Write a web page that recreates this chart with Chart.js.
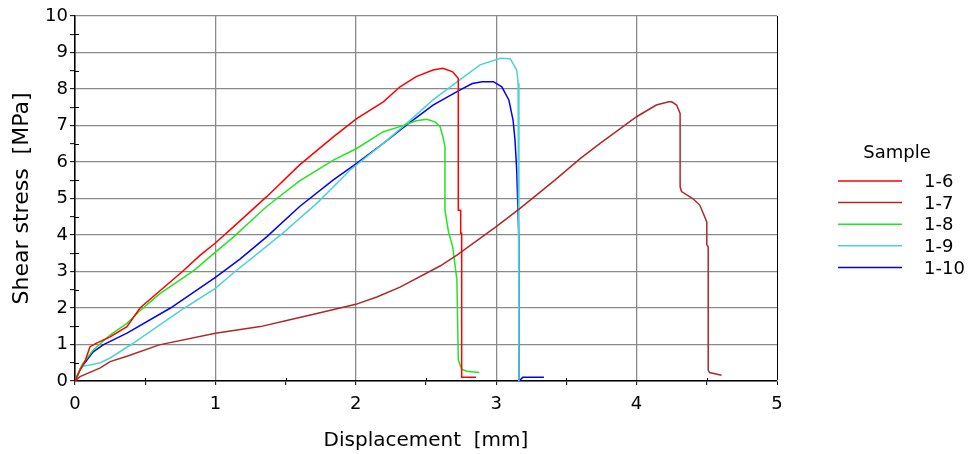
<!DOCTYPE html>
<html>
<head>
<meta charset="utf-8">
<script src="https://cdn.jsdelivr.net/npm/chart.js@4.4.0/dist/chart.umd.min.js"></script>
<style>
  html, body { margin: 0; padding: 0; background: #fff; }
  #wrap { width: 970px; height: 454px; }
</style>
</head>
<body>
<div id="wrap"><canvas id="chart"></canvas></div>
<script>
const sampleNames = ["1-6", "1-7", "1-8", "1-9", "1-10"];
const sampleColors = ["#ff0000", "#b02828", "#22e622", "#4fd2d2", "#0000ff"];

// displacement [mm] / shear stress [MPa]
const x16 = [0, 0.036, 0.07, 0.107, 0.15, 0.25, 0.37, 0.463, 0.765, 0.89, 1.0, 1.13, 1.365, 1.60, 1.84, 2.006, 2.196, 2.315, 2.43, 2.55, 2.62, 2.69, 2.73, 2.73, 2.747, 2.747, 2.754, 2.754, 2.856];
const y16 = [0, 0.3, 0.53, 0.94, 1.03, 1.21, 1.49, 2.0, 3.0, 3.44, 3.78, 4.23, 5.05, 5.92, 6.69, 7.19, 7.65, 8.06, 8.34, 8.52, 8.57, 8.47, 8.29, 4.68, 4.68, 4.05, 4.05, 0.1, 0.1];

const x17 = [0, 0.036, 0.18, 0.25, 0.37, 0.6, 1.0, 1.32, 1.5, 1.745, 2.0, 2.15, 2.315, 2.6, 2.72, 3.0, 3.17, 3.42, 3.6, 3.74, 4.0, 4.14, 4.23, 4.25, 4.285, 4.31, 4.31, 4.32, 4.40, 4.45, 4.475, 4.50, 4.50, 4.51, 4.51, 4.52, 4.605];
const y17 = [0, 0.12, 0.36, 0.53, 0.68, 0.99, 1.31, 1.49, 1.65, 1.87, 2.1, 2.3, 2.57, 3.15, 3.45, 4.23, 4.73, 5.51, 6.1, 6.51, 7.24, 7.56, 7.65, 7.65, 7.56, 7.33, 5.32, 5.19, 5.0, 4.82, 4.59, 4.36, 3.73, 3.68, 0.30, 0.23, 0.16];

const x18 = [0, 0.05, 0.13, 0.25, 0.37, 0.47, 0.6, 0.855, 0.96, 1.13, 1.365, 1.60, 1.84, 2.006, 2.196, 2.315, 2.43, 2.505, 2.564, 2.6, 2.62, 2.635, 2.635, 2.66, 2.69, 2.71, 2.72, 2.73, 2.754, 2.79, 2.88];
const y18 = [0, 0.45, 0.85, 1.26, 1.58, 1.95, 2.38, 3.05, 3.4, 3.95, 4.78, 5.48, 6.05, 6.37, 6.83, 6.97, 7.13, 7.17, 7.10, 6.97, 6.69, 6.42, 4.68, 4.09, 3.68, 3.08, 2.77, 0.58, 0.32, 0.27, 0.23];

const x19 = [0, 0.036, 0.06, 0.107, 0.18, 0.25, 0.40, 0.78, 1.0, 1.14, 1.258, 1.48, 1.72, 1.96, 2.196, 2.36, 2.55, 2.74, 2.885, 3.03, 3.1, 3.146, 3.156, 3.162, 3.162];
const y19 = [0, 0.3, 0.41, 0.44, 0.5, 0.63, 1.0, 2.0, 2.54, 3.0, 3.36, 4.05, 4.86, 5.78, 6.51, 7.05, 7.70, 8.25, 8.66, 8.84, 8.83, 8.52, 8.16, 5.0, 0.0];

const x110 = [0, 0.04, 0.13, 0.2, 0.37, 0.68, 1.0, 1.175, 1.365, 1.60, 1.84, 2.006, 2.196, 2.36, 2.55, 2.74, 2.83, 2.9, 2.98, 3.04, 3.09, 3.12, 3.134, 3.146, 3.162, 3.162, 3.19, 3.34];
const y110 = [0, 0.35, 0.80, 0.99, 1.31, 2.0, 2.84, 3.34, 3.95, 4.78, 5.51, 5.96, 6.51, 7.01, 7.56, 7.97, 8.15, 8.2, 8.2, 8.06, 7.70, 7.15, 6.6, 5.78, 3.86, 0.0, 0.1, 0.1];

const seriesX = [x16, x17, x18, x19, x110];
const seriesY = [y16, y17, y18, y19, y110];

const FONT = "'DejaVu Sans', Verdana, sans-serif";

const datasets = sampleNames.map((name, i) => ({
  label: name,
  data: seriesX[i].map((x, j) => ({ x: x, y: seriesY[i][j] })),
  borderColor: sampleColors[i],
  backgroundColor: sampleColors[i],
  borderWidth: 1.5,
  pointRadius: 0,
  showLine: true,
  tension: 0
}));

const isInt = v => Math.abs(v - Math.round(v)) < 1e-6;

// minor ticks cross the axis line, draw the inner half + the legend
const extras = {
  id: "extras",
  afterDraw(chart) {
    const ctx = chart.ctx;
    const xs = chart.scales.x, ys = chart.scales.y;
    const area = chart.chartArea;
    ctx.save();
    ctx.strokeStyle = "#000";
    ctx.lineWidth = 1;
    for (let v = 0.5; v < 5; v += 1) {
      const px = Math.round(xs.getPixelForValue(v)) + 0.5;
      ctx.beginPath(); ctx.moveTo(px, area.bottom); ctx.lineTo(px, area.bottom - 3); ctx.stroke();
    }
    for (let v = 0.5; v < 10; v += 1) {
      const py = Math.round(ys.getPixelForValue(v)) + 0.5;
      ctx.beginPath(); ctx.moveTo(area.left, py); ctx.lineTo(area.left + 4, py); ctx.stroke();
    }

    ctx.font = "18px " + FONT;
    ctx.fillStyle = "#000";
    ctx.textBaseline = "middle";
    ctx.textAlign = "center";
    ctx.fillText("Sample", 897, 153);
    ctx.textAlign = "left";
    chart.data.datasets.forEach((ds, i) => {
      const y = 181 + i * 21.6;
      ctx.strokeStyle = ds.borderColor;
      ctx.lineWidth = 1.5;
      ctx.beginPath(); ctx.moveTo(838, y); ctx.lineTo(902, y); ctx.stroke();
      ctx.fillText(ds.label, 924, y + 1.5);
    });
    ctx.restore();
  }
};

new Chart(document.getElementById("chart"), {
  type: "scatter",
  data: { datasets: datasets },
  plugins: [extras],
  options: {
    responsive: true,
    maintainAspectRatio: false,
    animation: false,
    layout: { padding: { top: 16, right: 193, left: 0, bottom: 0 } },
    plugins: { legend: { display: false }, tooltip: { enabled: false } },
    scales: {
      x: {
        type: "linear",
        min: 0, max: 5,
        afterFit: s => { s.height = 73; },
        ticks: {
          stepSize: 0.5,
          autoSkip: false,
          maxRotation: 0,
          padding: 9,
          color: "#000",
          font: { family: FONT, size: 18 },
          callback: v => isInt(v) ? String(v) : ""
        },
        grid: {
          color: c => isInt(c.tick.value) ? (c.tick.value === 5 ? "#000" : "#8a8a8a") : "rgba(0,0,0,0)",
          lineWidth: c => c.tick.value === 5 ? 1 : 1.3,
          tickColor: "#000",
          tickLength: 4,
          tickWidth: 1
        },
        border: { color: "#000", width: 1.5 },
        title: {
          display: true,
          text: "Displacement  [mm]",
          color: "#000",
          font: { family: FONT, size: 20 },
          padding: { top: 0, bottom: 1 }
        }
      },
      y: {
        type: "linear",
        min: 0, max: 10,
        afterFit: s => { s.width = 75; },
        ticks: {
          stepSize: 0.5,
          autoSkip: false,
          padding: 2,
          color: "#000",
          font: { family: FONT, size: 18 },
          callback: v => isInt(v) ? String(v) : ""
        },
        grid: {
          color: c => isInt(c.tick.value) ? "#8a8a8a" : "rgba(0,0,0,0)",
          lineWidth: 1.3,
          tickColor: "#000",
          tickLength: 5,
          tickWidth: 1
        },
        border: { color: "#000", width: 1.5 },
        title: {
          display: true,
          text: "Shear stress  [MPa]",
          color: "#000",
          font: { family: FONT, size: 22 },
          padding: { top: 9, bottom: 0 }
        }
      }
    }
  }
});
</script>
</body>
</html>
